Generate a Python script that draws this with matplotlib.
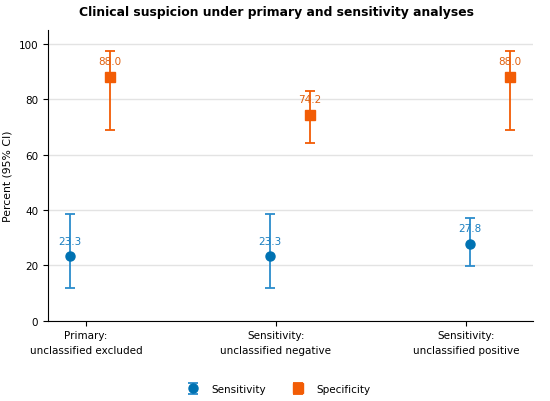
import numpy as np
import matplotlib
matplotlib.use("Agg")
import matplotlib.pyplot as plt

categories = ["Primary:\nunclassified excluded",
              "Sensitivity:\nunclassified negative",
              "Sensitivity:\nunclassified positive"]
sens = [23.3, 23.3, 27.8]
sens_lo = [11.8, 11.8, 19.9]
sens_hi = [38.6, 38.6, 37.1]
spec = [88.0, 74.2, 88.0]
spec_lo = [69.0, 64.3, 69.0]
spec_hi = [97.5, 82.8, 97.5]

blue = "#0072B2"
orange = "#F25C05"

x = np.arange(len(categories))
sens = np.array(sens)
spec = np.array(spec)

fig, ax = plt.subplots(figsize=(5.5, 4.02), dpi=100)
fig.subplots_adjust(left=0.087, right=0.969, bottom=0.2, top=0.923)

ax.grid(axis="y", color="#e3e3e3", linewidth=1.0)
ax.set_axisbelow(True)

ax.errorbar(x - 0.1, sens,
            yerr=[sens - np.array(sens_lo), np.array(sens_hi) - sens],
            fmt="o", color=blue, ecolor="#2b8ccc", elinewidth=1.3,
            capsize=3.6, capthick=1.3, markersize=6.5, label="Sensitivity")
ax.errorbar(x + 0.1, spec,
            yerr=[spec - np.array(spec_lo), np.array(spec_hi) - spec],
            fmt="s", color=orange, ecolor=orange, elinewidth=1.3,
            capsize=3.6, capthick=1.3, markersize=6.5, label="Specificity")

for xi, v in zip(x - 0.1, sens):
    ax.text(xi, v + 5.5, f"{v:.1f}", ha="center", va="center",
            fontsize=7.5, color="#1a7fc0")
for xi, v in zip(x + 0.1, spec):
    ax.text(xi, v + 5.8, f"{v:.1f}", ha="center", va="center",
            fontsize=7.5, color="#e0600f")

ax.set_xlim(-0.21, 2.215)
ax.set_ylim(0, 105)
ax.set_yticks([0, 20, 40, 60, 80, 100])
ax.set_xticks(x * 0.95 - 0.02)
ax.set_xticklabels(categories, fontsize=7.5, linespacing=1.55)
ax.tick_params(axis="y", labelsize=7.5)
ax.set_ylabel("Percent (95% CI)", fontsize=7.8)
fig.suptitle("Clinical suspicion under primary and sensitivity analyses",
             x=0.502, y=0.97, va="center", fontsize=8.9, fontweight="bold")

for s in ["top", "right"]:
    ax.spines[s].set_visible(False)

handles, labels = ax.get_legend_handles_labels()
fig.legend(handles, labels, loc="center", bbox_to_anchor=(0.503, 0.03),
           ncol=2, frameon=False, fontsize=7.5, columnspacing=2.0)

fig.savefig("out.png", dpi=100)
